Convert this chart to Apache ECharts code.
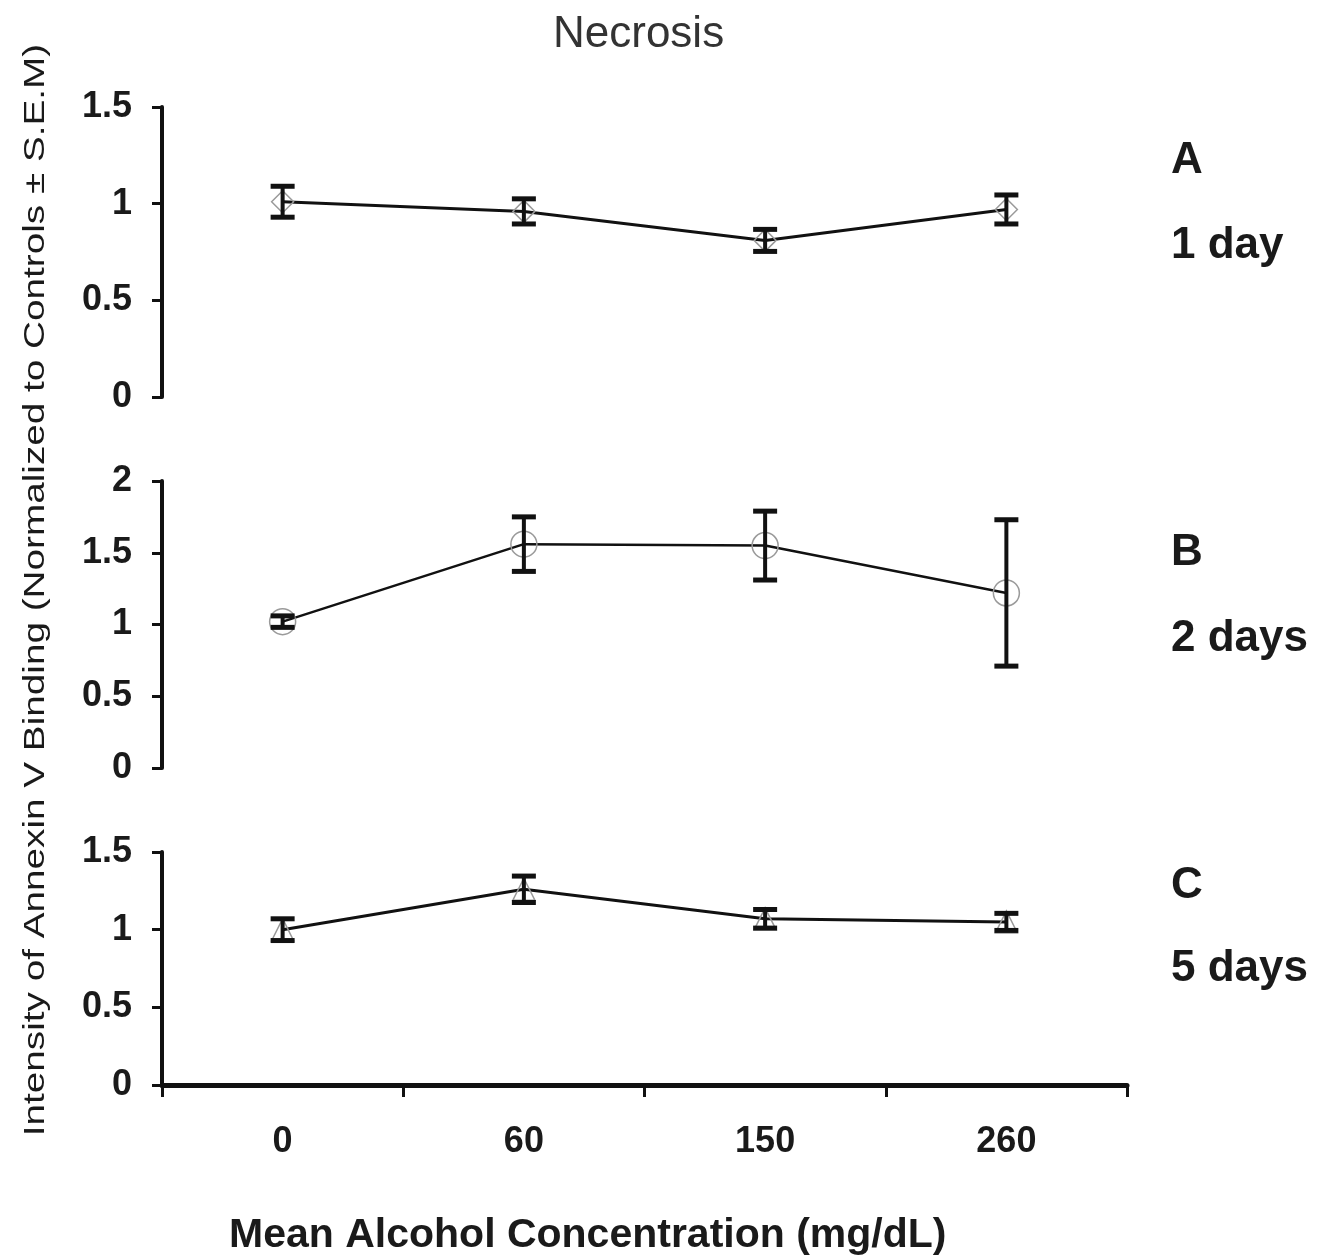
<!DOCTYPE html>
<html>
<head>
<meta charset="utf-8">
<script src="https://cdn.jsdelivr.net/npm/echarts@6/dist/echarts.min.js"></script>
<style>
html,body{margin:0;padding:0;background:#fff;}
#chart{width:1329px;height:1260px;}
</style>
</head>
<body>
<div id="chart"></div>
<script>
// ---- data ----
var categories = ['0', '60', '150', '260'];
var day1Mean = [1.01, 0.96, 0.81, 0.97];
var day1Sem  = [0.08, 0.065, 0.057, 0.075];
var day2Mean = [1.02, 1.56, 1.55, 1.22];
var day2Sem  = [0.04, 0.19, 0.24, 0.51];
var day5Mean = [1.00, 1.26, 1.07, 1.05];
var day5Sem  = [0.07, 0.085, 0.06, 0.055];
var panelLetters = ['A', 'B', 'C'];
var panelDays = ['1 day', '2 days', '5 days'];
var yTicksA = [0, 0.5, 1, 1.5];
var yTicksB = [0, 0.5, 1, 1.5, 2];
var yTicksC = [0, 0.5, 1, 1.5];

var FONT = '"Liberation Sans", Arial, sans-serif';

function errData(mean, sem) {
  return mean.map(function (m, i) { return [i, m - sem[i], m + sem[i]]; });
}
function errRender(params, api) {
  var x = api.value(0);
  var lo = api.coord([x, api.value(1)]);
  var hi = api.coord([x, api.value(2)]);
  var hw = 12;
  return {
    type: 'group',
    children: [
      {type: 'line', shape: {x1: lo[0], y1: lo[1], x2: hi[0], y2: hi[1]}, style: {stroke: '#111', lineWidth: 4}},
      {type: 'line', shape: {x1: lo[0] - hw, y1: lo[1], x2: lo[0] + hw, y2: lo[1]}, style: {stroke: '#111', lineWidth: 5}},
      {type: 'line', shape: {x1: hi[0] - hw, y1: hi[1], x2: hi[0] + hw, y2: hi[1]}, style: {stroke: '#111', lineWidth: 5}}
    ]
  };
}

var grids = [
  {left: 162, right: 202, top: 107, height: 290},
  {left: 162, right: 202, top: 481, height: 287},
  {left: 162, right: 202, top: 852, height: 233}
];

function xAxisFor(i) {
  var last = i === 2;
  return {
    type: 'category', gridIndex: i, data: categories, boundaryGap: true,
    axisLine: {show: last, lineStyle: {color: '#111', width: 5}},
    axisTick: {show: last, length: 12, inside: false, lineStyle: {color: '#111', width: 3}},
    axisLabel: {show: last, color: '#1a1a1a', fontSize: 36, fontWeight: 'bold', fontFamily: FONT, margin: 39},
    splitLine: {show: false}
  };
}
function yAxisFor(i, max, ticks) {
  return {
    type: 'value', gridIndex: i, min: 0, max: max, interval: 0.5,
    axisLine: {show: true, lineStyle: {color: '#111', width: 4}},
    axisTick: {show: true, length: 10, lineStyle: {color: '#111', width: 3}},
    axisLabel: {color: '#1a1a1a', fontSize: 36, fontWeight: 'bold', fontFamily: FONT, margin: 30,
      formatter: function (v) { return ticks.indexOf(v) >= 0 ? String(v) : ''; }},
    splitLine: {show: false}
  };
}

function lineSeries(i, mean, symbol, size, width) {
  return {
    type: 'line', xAxisIndex: i, yAxisIndex: i, data: mean,
    symbol: symbol, symbolSize: size, showAllSymbol: true,
    lineStyle: {color: '#111', width: width},
    itemStyle: {color: 'rgba(255,255,255,0)', borderColor: '#9a9a9a', borderWidth: 1.5},
    z: 2, silent: true
  };
}
function errSeries(i, mean, sem) {
  return {
    type: 'custom', xAxisIndex: i, yAxisIndex: i, data: errData(mean, sem),
    renderItem: errRender, z: 3, silent: true,
    encode: {x: 0, y: [1, 2]}
  };
}

var titles = [{
  text: 'Necrosis', left: 548, top: 8,
  textStyle: {color: '#333', fontSize: 44, fontWeight: 'normal', fontFamily: FONT}
}, {
  text: 'Mean Alcohol Concentration (mg/dL)', left: 224, top: 1210,
  textStyle: {color: '#1a1a1a', fontSize: 41, fontWeight: 'bold', fontFamily: FONT}
}];
var letterTops = [134, 526, 859];
var dayTops = [219, 612, 942];
for (var k = 0; k < 3; k++) {
  titles.push({text: panelLetters[k], left: 1166, top: letterTops[k],
    textStyle: {color: '#1a1a1a', fontSize: 44, fontWeight: 'bold', fontFamily: FONT}});
  titles.push({text: panelDays[k], left: 1166, top: dayTops[k],
    textStyle: {color: '#1a1a1a', fontSize: 44, fontWeight: 'bold', fontFamily: FONT}});
}

var chart = echarts.init(document.getElementById('chart'), null, {renderer: 'canvas'});
chart.setOption({
  backgroundColor: '#fff',
  animation: false,
  title: titles,
  grid: grids,
  xAxis: [xAxisFor(0), xAxisFor(1), xAxisFor(2)],
  yAxis: [yAxisFor(0, 1.5, yTicksA), yAxisFor(1, 2, yTicksB), yAxisFor(2, 1.5, yTicksC)],
  graphic: [{
    type: 'text', x: 36, y: 590, rotation: Math.PI / 2, scaleX: 1.29,
    style: {
      text: 'Intensity of Annexin V Binding (Normalized to Controls \u00b1 S.E.M)',
      font: 'normal 30px ' + FONT, fill: '#1a1a1a', align: 'center', verticalAlign: 'middle'
    }
  }],
  series: [
    lineSeries(0, day1Mean, 'diamond', 22, 3),
    errSeries(0, day1Mean, day1Sem),
    lineSeries(1, day2Mean, 'circle', 26, 2.5),
    errSeries(1, day2Mean, day2Sem),
    lineSeries(2, day5Mean, 'triangle', 22, 3),
    errSeries(2, day5Mean, day5Sem)
  ]
});
</script>
</body>
</html>
